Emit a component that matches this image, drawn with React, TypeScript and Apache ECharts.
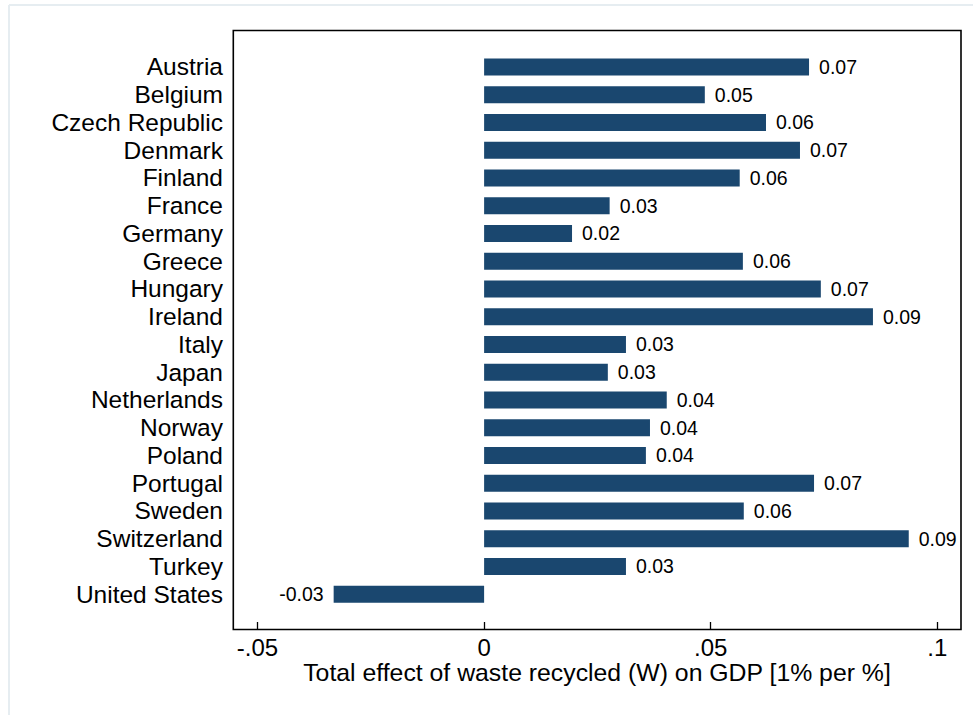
import React, { useEffect, useRef } from "react";
import * as echarts from "echarts";

const countries = [
  "Austria",
  "Belgium",
  "Czech Republic",
  "Denmark",
  "Finland",
  "France",
  "Germany",
  "Greece",
  "Hungary",
  "Ireland",
  "Italy",
  "Japan",
  "Netherlands",
  "Norway",
  "Poland",
  "Portugal",
  "Sweden",
  "Switzerland",
  "Turkey",
  "United States",
];

const totalEffect = [
  0.0717, 0.0487, 0.0622, 0.0697, 0.0564, 0.0277, 0.0194, 0.0571, 0.0743, 0.0858,
  0.0313, 0.0273, 0.0403, 0.0366, 0.0357, 0.0728, 0.0573, 0.0937, 0.0313, -0.0332,
];

const xTicks = [-0.05, 0, 0.05, 0.1];
const xTitle = "Total effect of waste recycled (W) on GDP [1% per %]";

const FONT = "'Liberation Sans', Arial, Helvetica, sans-serif";
const BAR = "#1a476f";

// Stata-style tick text: drop the leading zero (".05", "-.05")
const stataNum = (v: number) => (v === 0 ? "0" : String(v).replace("0.", "."));

export default function App() {
  const ref = useRef<HTMLDivElement>(null);

  useEffect(() => {
    if (!ref.current) return;
    const chart = echarts.init(ref.current, null, { renderer: "svg" });

    chart.setOption({
      animation: false,
      backgroundColor: "#ffffff",
      textStyle: { fontFamily: FONT },
      grid: { left: 233, right: 12, top: 53, bottom: 107, containLabel: false },
      xAxis: {
        type: "value",
        min: -0.05541,
        max: 0.10523,
        offset: 22,
        splitLine: { show: false },
        axisLine: { show: false },
        axisTick: {
          show: true,
          inside: true,
          length: 8,
          customValues: xTicks,
          lineStyle: { color: "#000", width: 1.3 },
        },
        axisLabel: {
          customValues: xTicks,
          formatter: (v: number) => stataNum(v),
          color: "#000",
          fontSize: 24,
          lineHeight: 18,
          fontFamily: FONT,
          margin: 8,
        },
        name: xTitle,
        nameLocation: "middle",
        nameGap: 33,
        nameMoveOverlap: false,
        nameTextStyle: {
          color: "#000",
          fontSize: 24.8,
          lineHeight: 18,
          fontFamily: FONT,
        },
      },
      yAxis: {
        type: "category",
        data: countries,
        inverse: true,
        axisLine: { show: false },
        axisTick: { show: false },
        splitLine: { show: false },
        axisLabel: {
          interval: 0,
          color: "#000",
          fontSize: 24.5,
          fontFamily: FONT,
          margin: 10,
        },
      },
      series: [
        {
          type: "bar",
          barWidth: 17,
          itemStyle: { color: BAR },
          data: totalEffect.map((v) => ({
            value: v,
            label: { position: v < 0 ? "left" : "right" },
          })),
          label: {
            show: true,
            distance: 10,
            color: "#000",
            fontSize: 19.5,
            fontFamily: FONT,
            formatter: (p: any) => Number(p.value).toFixed(2),
          },
        },
      ],
      graphic: [
        {
          type: "line",
          shape: { x1: 9, y1: 5, x2: 9, y2: 715 },
          style: { stroke: "#e6edf1", lineWidth: 2 },
          silent: true,
        },
        {
          type: "line",
          shape: { x1: 9, y1: 5, x2: 973, y2: 5 },
          style: { stroke: "#e6edf1", lineWidth: 2 },
          silent: true,
        },
        {
          type: "rect",
          shape: { x: 233.3, y: 30.5, width: 727.7, height: 599 },
          style: { fill: "none", stroke: "#000", lineWidth: 1.6 },
          z: 100,
          silent: true,
        },
      ],
    });

    return () => chart.dispose();
  }, []);

  return (
    <div
      ref={ref}
      style={{ position: "fixed", left: 0, top: 0, width: 973, height: 715 }}
    />
  );
}
